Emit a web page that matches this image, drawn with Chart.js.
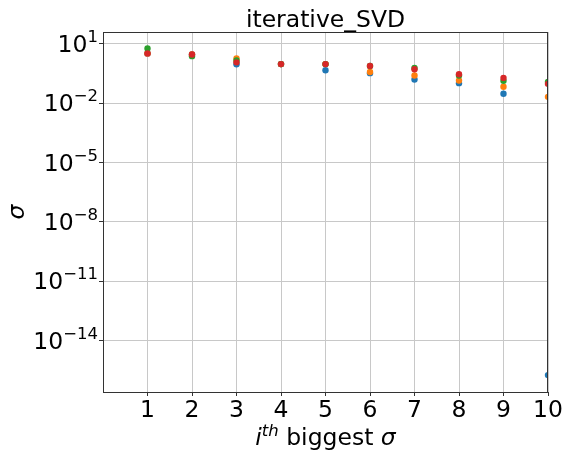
<!DOCTYPE html>
<html>
<head>
<meta charset="utf-8">
<title>iterative_SVD</title>
<script src="https://cdn.jsdelivr.net/npm/chart.js@4/dist/chart.umd.min.js"></script>
<style>
  body { margin: 0; background: #fff; }
  canvas { display: block; }
</style>
</head>
<body>
<canvas id="svdChart" width="565" height="456"></canvas>
<script>
// index of singular value
const ranks = [1, 2, 3, 4, 5, 6, 7, 8, 9, 10];

// singular values for the 4 runs
const run0 = [3.3, 2.9, 0.92, 0.95, 0.46, 0.33, 0.158, 0.103, 0.030, 1.8e-16];
const run1 = [3.3, 2.9, 1.84, 0.95, 0.95, 0.38, 0.25, 0.141, 0.068, 0.021];
const run2 = [5.8, 2.4, 1.46, 0.95, 0.95, 0.76, 0.60, 0.25, 0.135, 0.12];
const run3 = [3.3, 2.9, 1.16, 0.95, 0.95, 0.76, 0.52, 0.29, 0.19, 0.095];

const xTicks = [1, 2, 3, 4, 5, 6, 7, 8, 9, 10];
const yExponents = [1, -2, -5, -8, -11, -14];

const colors = ['#1f77b4', '#ff7f0e', '#2ca02c', '#d62728'];
const FONT = 'DejaVu Sans';
const BIG = '23.5px "' + FONT + '"';
const SMALL = '16.5px "' + FONT + '"';

function toPoints(vals) {
    return ranks.map((r, i) => ({ x: r, y: vals[i] }));
}

// later runs drawn on top (lower order = drawn last)
const datasets = [run0, run1, run2, run3].map((vals, k) => ({
    label: 'run ' + k,
    data: toPoints(vals),
    backgroundColor: colors[k],
    borderColor: colors[k],
    borderWidth: 0,
    pointRadius: 3.2,
    order: 3 - k,
    clip: 0
}));

// draws title, tick labels with superscripts, axis labels and the frame
const decorations = {
    id: 'decorations',
    afterDraw(chart) {
        const ctx = chart.ctx;
        const area = chart.chartArea;
        const xs = chart.scales.x;
        const ys = chart.scales.y;
        ctx.save();

        // frame
        ctx.strokeStyle = '#333';
        ctx.lineWidth = 1;
        ctx.strokeRect(area.left + 0.5, area.top + 0.5, area.right - area.left - 1, area.bottom - area.top);

        ctx.fillStyle = '#000';
        ctx.textBaseline = 'alphabetic';

        // title
        ctx.font = BIG;
        ctx.textAlign = 'center';
        ctx.fillText('iterative_SVD', (area.left + area.right) / 2, 27);

        // x tick labels
        xTicks.forEach(t => {
            ctx.fillText(String(t), xs.getPixelForValue(t), 417);
        });

        // y tick labels: 10^e
        ctx.textAlign = 'left';
        yExponents.forEach(e => {
            const py = ys.getPixelForValue(Math.pow(10, e));
            const expTxt = e < 0 ? '\u2212' + Math.abs(e) : String(e);
            ctx.font = SMALL;
            const ew = ctx.measureText(expTxt).width;
            ctx.font = BIG;
            const bw = ctx.measureText('10').width;
            const right = 98;
            ctx.fillText('10', right - ew - bw, py + 8);
            ctx.font = SMALL;
            ctx.fillText(expTxt, right - ew, py - 2);
        });

        // x axis label: i^th biggest sigma
        const parts = [
            { t: 'i', f: 'italic ' + BIG, dy: 0 },
            { t: 'th', f: 'italic ' + SMALL, dy: -9 },
            { t: ' biggest ', f: BIG, dy: 0 },
            { t: '\u03c3', f: 'italic ' + BIG, dy: 0 }
        ];
        let total = 0;
        parts.forEach(p => { ctx.font = p.f; p.w = ctx.measureText(p.t).width; total += p.w; });
        let cx = (area.left + area.right) / 2 - total / 2;
        parts.forEach(p => {
            ctx.font = p.f;
            ctx.fillText(p.t, cx, 445 + p.dy);
            cx += p.w;
        });

        // y axis label
        ctx.translate(24, (area.top + area.bottom) / 2);
        ctx.rotate(-Math.PI / 2);
        ctx.textAlign = 'center';
        ctx.font = 'italic ' + BIG;
        ctx.fillText('\u03c3', 0, 0);
        ctx.restore();
    }
};

new Chart(document.getElementById('svdChart'), {
    type: 'scatter',
    data: { datasets: datasets },
    options: {
        responsive: false,
        animation: false,
        layout: { padding: { top: 32, right: 17, left: 0, bottom: 0 } },
        plugins: { legend: { display: false }, tooltip: { enabled: false } },
        scales: {
            x: {
                type: 'linear',
                min: 0,
                max: 10,
                afterBuildTicks: s => { s.ticks = xTicks.map(v => ({ value: v })); },
                afterFit: s => { s.height = 64; },
                ticks: { display: false },
                border: { display: false },
                grid: { color: '#c8c8c8', lineWidth: 1, drawTicks: true, tickLength: 4, tickColor: '#333' }
            },
            y: {
                type: 'logarithmic',
                min: Math.pow(10, -16.6),
                max: Math.pow(10, 1.6),
                afterBuildTicks: s => { s.ticks = yExponents.map(e => ({ value: Math.pow(10, e) })); },
                afterFit: s => { s.width = 103; },
                ticks: { display: false },
                border: { display: false },
                grid: { color: '#c8c8c8', lineWidth: 1, drawTicks: true, tickLength: 4, tickColor: '#333' }
            }
        }
    },
    plugins: [decorations]
});
</script>
</body>
</html>
